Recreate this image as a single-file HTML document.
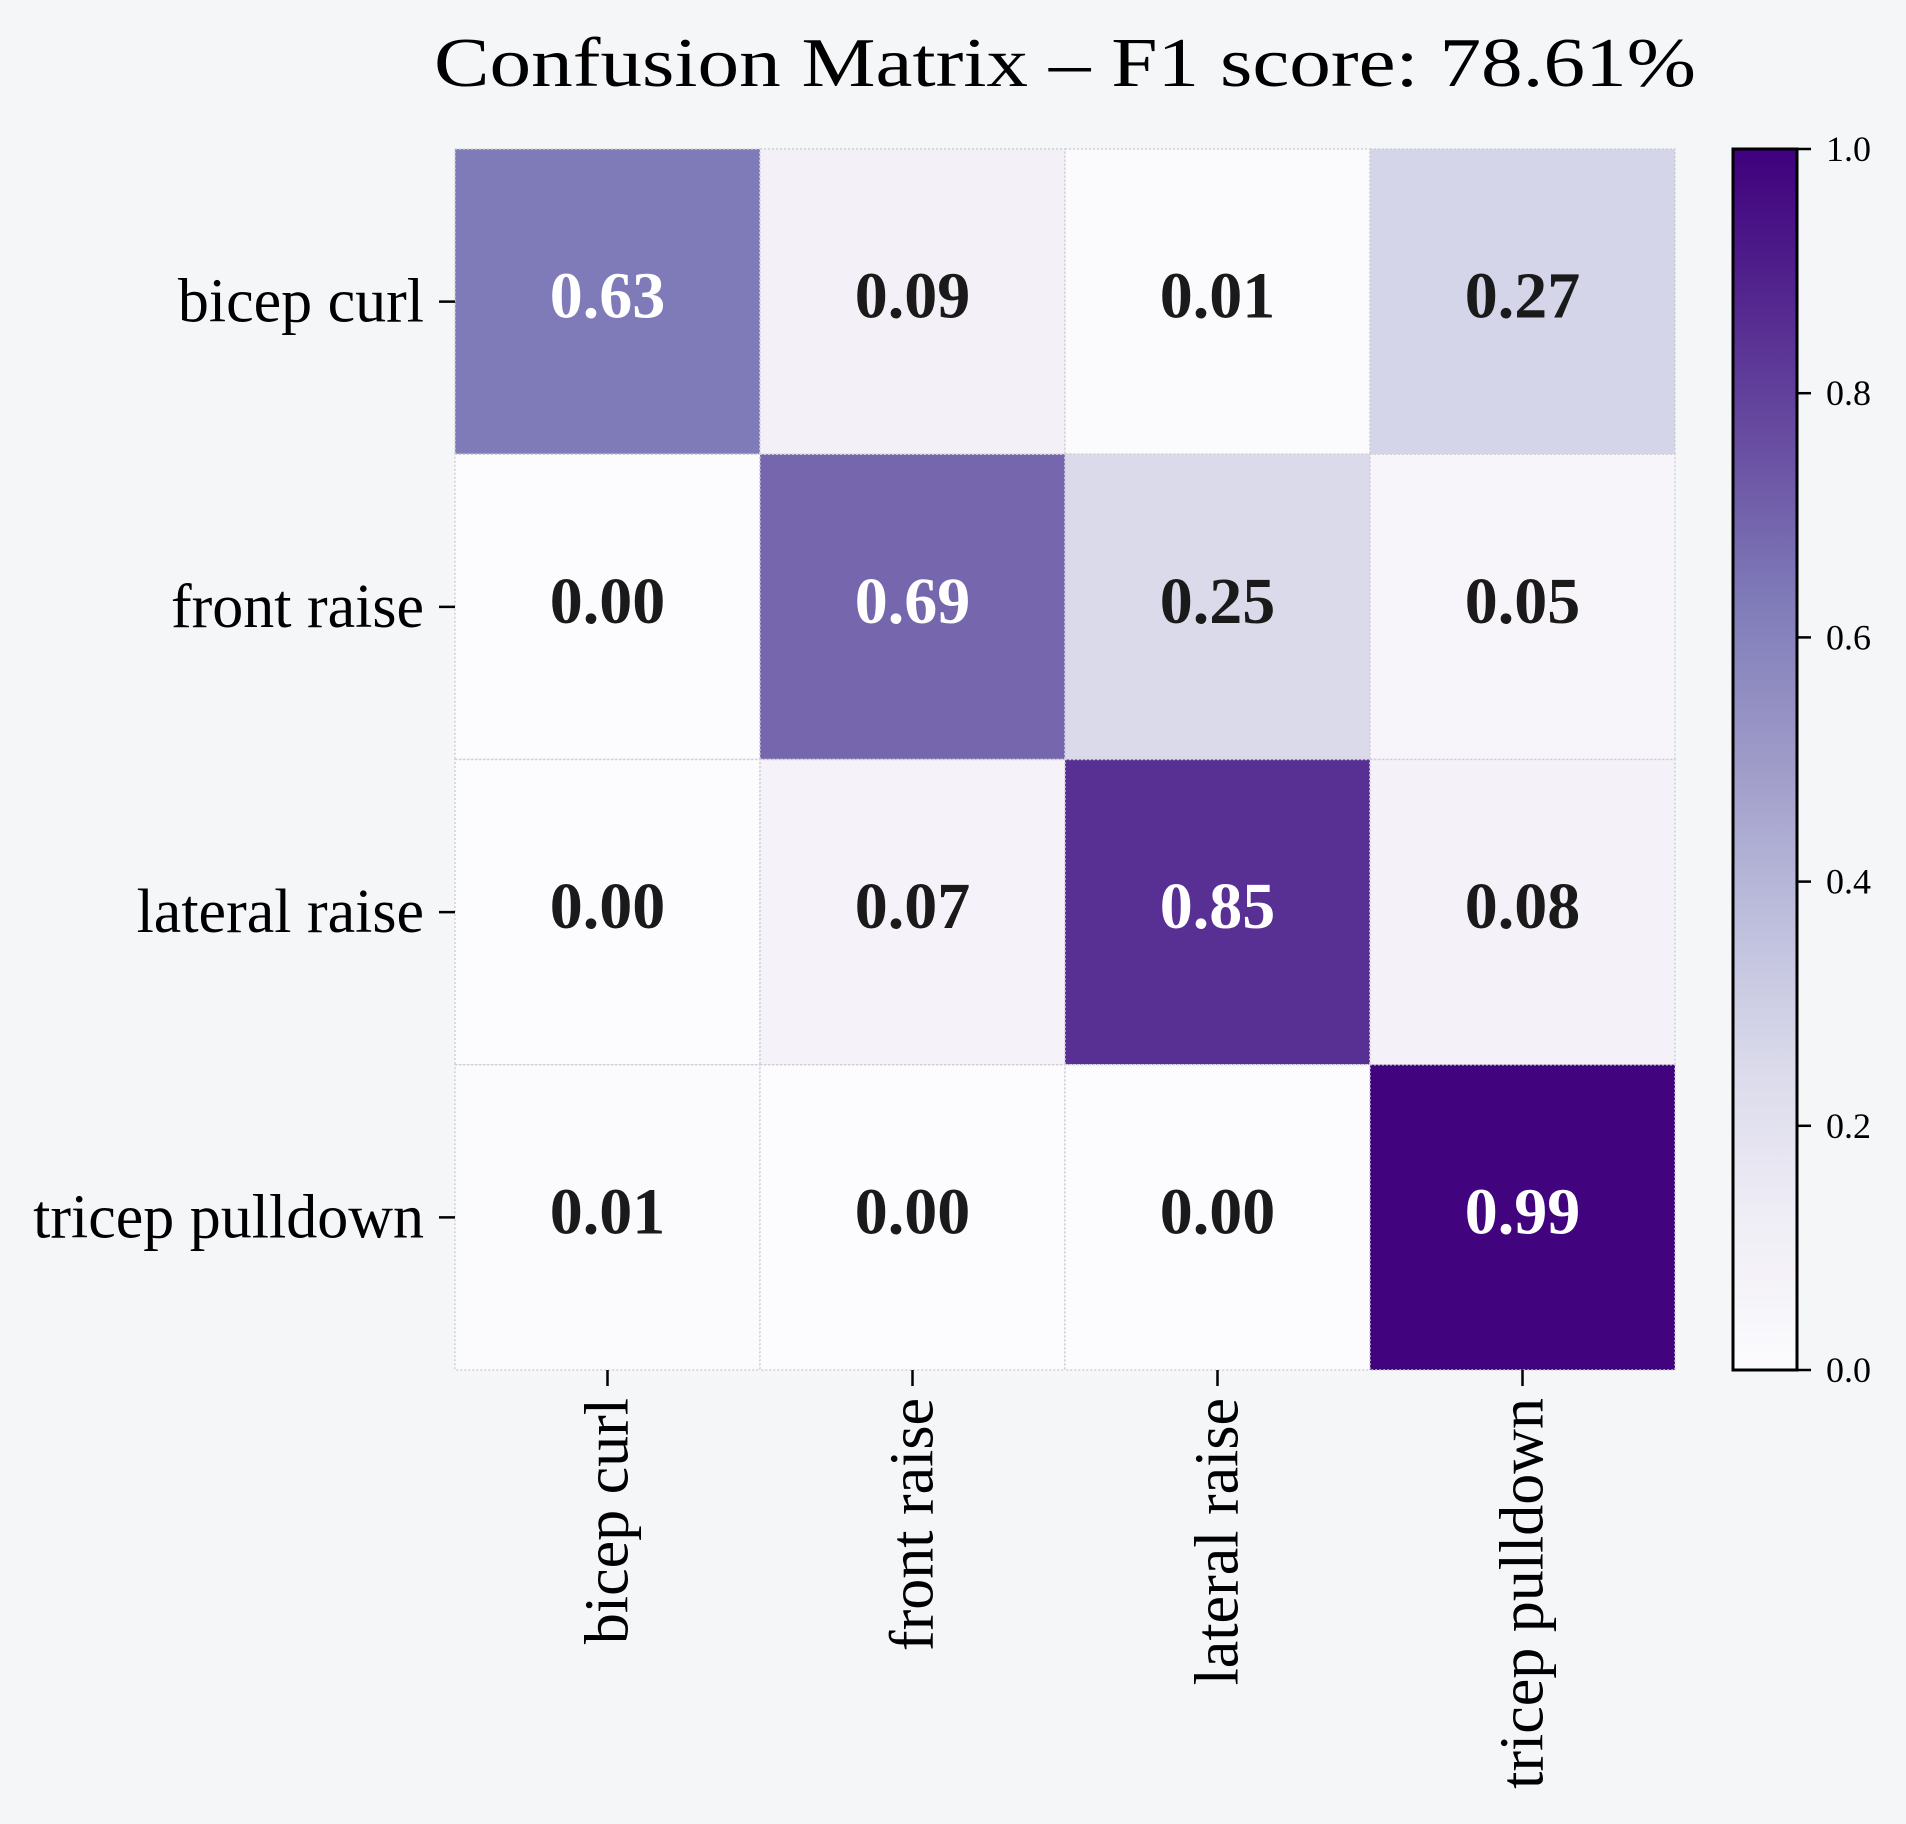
<!DOCTYPE html>
<html><head><meta charset="utf-8"><style>
html,body{margin:0;padding:0;background:#f5f6f8;}
svg{display:block;font-family:"Liberation Serif","Times New Roman",serif;}
</style></head><body>
<svg id="chart" width="1906" height="1824" viewBox="0 0 1906 1824">
<rect width="1906" height="1824" fill="#f5f6f8"/>
<text x="1065" y="86" text-anchor="middle" font-size="70" textLength="1262" lengthAdjust="spacingAndGlyphs" fill="#000">Confusion Matrix – F1 score: 78.61%</text>
<defs><linearGradient id="cbgrad" x1="0" y1="1" x2="0" y2="0"></linearGradient></defs>
<g id="cells"></g><g id="grid"></g><g id="labels"></g><g id="cbar"></g>
</svg>
<script>
const categories = ["bicep curl","front raise","lateral raise","tricep pulldown"];
const row0 = [0.63,0.09,0.01,0.27];
const row1 = [0.00,0.69,0.25,0.05];
const row2 = [0.00,0.07,0.85,0.08];
const row3 = [0.01,0.00,0.00,0.99];
const matrix = [row0,row1,row2,row3];
const cbTicks = [0.0,0.2,0.4,0.6,0.8,1.0];
const cbTickLabels = ["0.0","0.2","0.4","0.6","0.8","1.0"];

const NS="http://www.w3.org/2000/svg";
const X0=455,Y0=149,W=1220,H=1221;
const n=categories.length;
const cw=W/n,ch=H/n;
const xs=i=>X0+i*cw, ys=j=>Y0+j*ch;
const cbX=1733,cbW=64,cbY0=149,cbH=1221;
const cy=v=>cbY0+cbH*(1-v);
const stops=["#fcfbfd","#efedf5","#dadaeb","#bcbddc","#9e9ac8","#807dba","#6a51a3","#54278f","#3f007d"];
function hex(h){return [1,3,5].map(i=>parseInt(h.substr(i,2),16));}
function cmap(v){v=Math.max(0,Math.min(1,v));const p=v*(stops.length-1);const i=Math.min(Math.floor(p),stops.length-2);const t=p-i;const a=hex(stops[i]),b=hex(stops[i+1]);return "rgb("+a.map((x,k)=>Math.round(x+(b[k]-x)*t)).join(",")+")";}
function mk(tag,attrs,parent,txt){const e=document.createElementNS(NS,tag);for(const k in attrs)e.setAttribute(k,attrs[k]);if(txt!==undefined)e.textContent=txt;parent.appendChild(e);return e;}
const gc=document.getElementById('cells'),gg=document.getElementById('grid'),gl=document.getElementById('labels'),gb=document.getElementById('cbar');
for(let r=0;r<n;r++){for(let c=0;c<n;c++){
 const v=matrix[r][c];
 const rc=mk('rect',{x:xs(c),y:ys(r),width:cw,height:ch,fill:cmap(v),stroke:'#d0d0d6','stroke-width':1.5,'stroke-dasharray':'2,2'},gc);
 
 
 const t=mk('text',{x:xs(c)+cw/2,y:ys(r)+ch/2+16,'text-anchor':'middle','font-size':66,'font-weight':'bold',fill:v>0.5?'#ffffff':'#1a1a1a'},gc,v.toFixed(2));
 
 
}}
for(let i=0;i<n;i++){
 const yc=ys(i)+ch/2;
 const tk=mk('line',{x1:X0-16,x2:X0,y1:yc,y2:yc,stroke:'#000','stroke-width':2.5},gl);
 
 
 const yl=mk('text',{x:X0-31,y:yc+20,'text-anchor':'end','font-size':62,fill:'#000'},gl,categories[i]);
 
 
 const xc=xs(i)+cw/2;
 const xt=mk('line',{x1:xc,x2:xc,y1:Y0+H,y2:Y0+H+16,stroke:'#000','stroke-width':2.5},gl);
 
 
 const xl=mk('text',{x:0,y:0,'text-anchor':'end','font-size':62,fill:'#000',transform:'translate('+(xc+20)+','+(Y0+H+28)+') rotate(-90)'},gl,categories[i]);
 
 
}
const grad=document.getElementById('cbgrad');
stops.forEach((s,i)=>mk('stop',{offset:(i/(stops.length-1)),'stop-color':s},grad));
const cb=mk('rect',{x:cbX,y:cbY0,width:cbW,height:cbH,fill:'url(#cbgrad)',stroke:'#000','stroke-width':3},gb);


cbTicks.forEach((v,i)=>{
 const l=mk('line',{x1:cbX+cbW,x2:cbX+cbW+14,y1:cy(v),y2:cy(v),stroke:'#000','stroke-width':2.5},gb);
 
 
 const t=mk('text',{x:cbX+cbW+29,y:cy(v)+12,'font-size':36,fill:'#000'},gb,cbTickLabels[i]);
 
 
});
</script>
</body></html>
